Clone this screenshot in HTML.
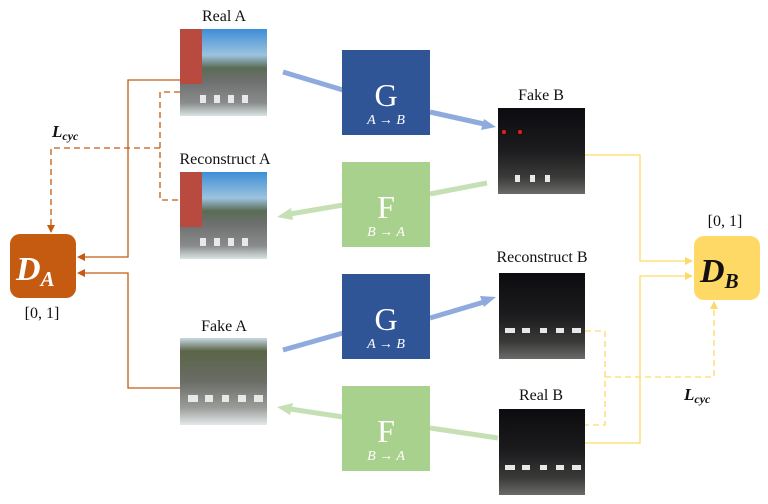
<!DOCTYPE html>
<html><head><meta charset="utf-8"><style>
html,body{margin:0;padding:0;background:#fff;}
svg{display:block;}
text{font-family:"Liberation Serif",serif;}
</style></head><body>
<svg width="768" height="504" viewBox="0 0 768 504" xmlns="http://www.w3.org/2000/svg">
<defs>
<linearGradient id="day" x1="0" y1="0" x2="0" y2="1">
<stop offset="0" stop-color="#3d8ed6"/><stop offset="0.3" stop-color="#9cc3de"/><stop offset="0.45" stop-color="#5a6b55"/><stop offset="0.6" stop-color="#6e7070"/><stop offset="0.85" stop-color="#8a8c8c"/><stop offset="1" stop-color="#d9e4e4"/>
</linearGradient>
<linearGradient id="dayb" x1="0" y1="0" x2="0" y2="1">
<stop offset="0" stop-color="#c9d9e6"/><stop offset="0.15" stop-color="#5b6547"/><stop offset="0.5" stop-color="#6a6c66"/><stop offset="0.8" stop-color="#9a9c98"/><stop offset="1" stop-color="#e4e8ea"/>
</linearGradient>
<linearGradient id="night" x1="0" y1="0" x2="0" y2="1">
<stop offset="0" stop-color="#0c0c10"/><stop offset="0.5" stop-color="#1c1c1e"/><stop offset="0.8" stop-color="#3a3a38"/><stop offset="1" stop-color="#6a6c6a"/>
</linearGradient>
<marker id="ao" markerWidth="8" markerHeight="8" refX="7" refY="4" orient="auto" markerUnits="userSpaceOnUse"><path d="M0,0 L8,4 L0,8 z" fill="#c55a11"/></marker>
<marker id="ay" markerWidth="8" markerHeight="8" refX="7" refY="4" orient="auto" markerUnits="userSpaceOnUse"><path d="M0,0 L8,4 L0,8 z" fill="#ffd966"/></marker>
</defs>

<g>
<rect x="180" y="29" width="87" height="87" fill="url(#day)"/>
<rect x="180" y="29" width="22" height="55" fill="#b84a40"/>
<rect x="180" y="172" width="87" height="87" fill="url(#day)"/>
<rect x="180" y="172" width="22" height="55" fill="#b84a40"/>
<rect x="180" y="338" width="87" height="87" fill="url(#dayb)"/>
<rect x="498" y="108" width="87" height="86" fill="url(#night)"/>
<rect x="499" y="273" width="86" height="86" fill="url(#night)"/>
<rect x="499" y="409" width="86" height="86" fill="url(#night)"/>
<g fill="#e8e8e8">
<rect x="200" y="95" width="6" height="8"/><rect x="214" y="95" width="6" height="8"/><rect x="228" y="95" width="6" height="8"/><rect x="242" y="95" width="6" height="8"/>
<rect x="200" y="238" width="6" height="8"/><rect x="214" y="238" width="6" height="8"/><rect x="228" y="238" width="6" height="8"/><rect x="242" y="238" width="6" height="8"/>
<rect x="188" y="395" width="10" height="7"/><rect x="205" y="395" width="8" height="7"/><rect x="222" y="395" width="7" height="7"/><rect x="238" y="395" width="8" height="7"/><rect x="254" y="395" width="9" height="7"/>
<rect x="515" y="175" width="5" height="7"/><rect x="530" y="175" width="5" height="7"/><rect x="545" y="175" width="5" height="7"/>
<rect x="505" y="328" width="10" height="5"/><rect x="522" y="328" width="8" height="5"/><rect x="540" y="328" width="7" height="5"/><rect x="556" y="328" width="8" height="5"/><rect x="572" y="328" width="9" height="5"/>
<rect x="505" y="465" width="10" height="5"/><rect x="522" y="465" width="8" height="5"/><rect x="540" y="465" width="7" height="5"/><rect x="556" y="465" width="8" height="5"/><rect x="572" y="465" width="9" height="5"/>
</g>
<circle cx="504" cy="132" r="2" fill="#e02020"/><circle cx="520" cy="132" r="2" fill="#e02020"/>
</g>

<g font-size="16" fill="#111" text-anchor="middle">
<text x="224" y="21">Real A</text>
<text x="225" y="164">Reconstruct A</text>
<text x="224" y="331">Fake A</text>
<text x="541" y="100">Fake B</text>
<text x="542" y="262">Reconstruct B</text>
<text x="541" y="400">Real B</text>
<text x="42" y="318">[0, 1]</text>
<text x="725" y="226">[0, 1]</text>
</g>
<text x="52" y="137" font-size="17" font-weight="bold" font-style="italic" fill="#111">L<tspan font-size="12" dy="3">cyc</tspan></text>
<text x="684" y="400" font-size="17" font-weight="bold" font-style="italic" fill="#111">L<tspan font-size="12" dy="3">cyc</tspan></text>

<g stroke="#8faadc" stroke-width="5" fill="none">
<line x1="283" y1="72" x2="343" y2="90"/>
<line x1="430" y1="112" x2="484" y2="124"/>
<line x1="283" y1="350" x2="343" y2="333"/>
<line x1="430" y1="318" x2="484" y2="302"/>
</g>
<path d="M496,127 L481,130 L484,119 z" fill="#8faadc"/>
<path d="M496,297 L484,307 L480,296 z" fill="#8faadc"/>
<g stroke="#c5e0b4" stroke-width="5" fill="none">
<line x1="487" y1="183" x2="430" y2="194"/>
<line x1="343" y1="205" x2="290" y2="214"/>
<line x1="498" y1="438" x2="430" y2="428"/>
<line x1="343" y1="417" x2="290" y2="409"/>
</g>
<path d="M277,217 L291,208 L293,220 z" fill="#c5e0b4"/>
<path d="M277,407 L293,403 L290,415 z" fill="#c5e0b4"/>

<rect x="342" y="50" width="88" height="85" fill="#2f5597"/>
<rect x="342" y="162" width="88" height="85" fill="#a9d18e"/>
<rect x="342" y="274" width="88" height="85" fill="#2f5597"/>
<rect x="342" y="386" width="88" height="85" fill="#a9d18e"/>
<g fill="#fff" text-anchor="middle">
<text x="386" y="106" font-size="32">G</text>
<text x="386" y="124" font-size="14" font-style="italic">A → B</text>
<text x="386" y="218" font-size="32">F</text>
<text x="386" y="236" font-size="14" font-style="italic">B → A</text>
<text x="386" y="330" font-size="32">G</text>
<text x="386" y="348" font-size="14" font-style="italic">A → B</text>
<text x="386" y="442" font-size="32">F</text>
<text x="386" y="460" font-size="14" font-style="italic">B → A</text>
</g>

<rect x="10" y="234" width="66" height="64" rx="10" fill="#c55a11"/>
<text x="16" y="280" font-size="34" font-weight="bold" font-style="italic" fill="#fff">D<tspan font-size="21" dy="6">A</tspan></text>
<rect x="694" y="236" width="66" height="64" rx="10" fill="#ffd966"/>
<text x="700" y="282" font-size="34" font-weight="bold" font-style="italic" fill="#111">D<tspan font-size="21" dy="6">B</tspan></text>

<g stroke="#c55a11" stroke-width="1.3" fill="none">
<polyline points="180,80 128,80 128,257 78,257" marker-end="url(#ao)"/>
<polyline points="180,388 128,388 128,273 78,273" marker-end="url(#ao)"/>
<g stroke-dasharray="6,4">
<polyline points="180,92 160,92 160,200 180,200"/>
<polyline points="160,148 51,148 51,232" marker-end="url(#ao)"/>
</g>
</g>

<g stroke="#ffd966" stroke-width="1.3" fill="none">
<polyline points="585,155 640,155 640,261 692,261" marker-end="url(#ay)"/>
<polyline points="585,443 640,443 640,276 692,276" marker-end="url(#ay)"/>
<g stroke-dasharray="6,4">
<polyline points="585,331 605,331 605,425 585,425"/>
<polyline points="605,377 714,377 714,302" marker-end="url(#ay)"/>
</g>
</g>
</svg>
</body></html>
